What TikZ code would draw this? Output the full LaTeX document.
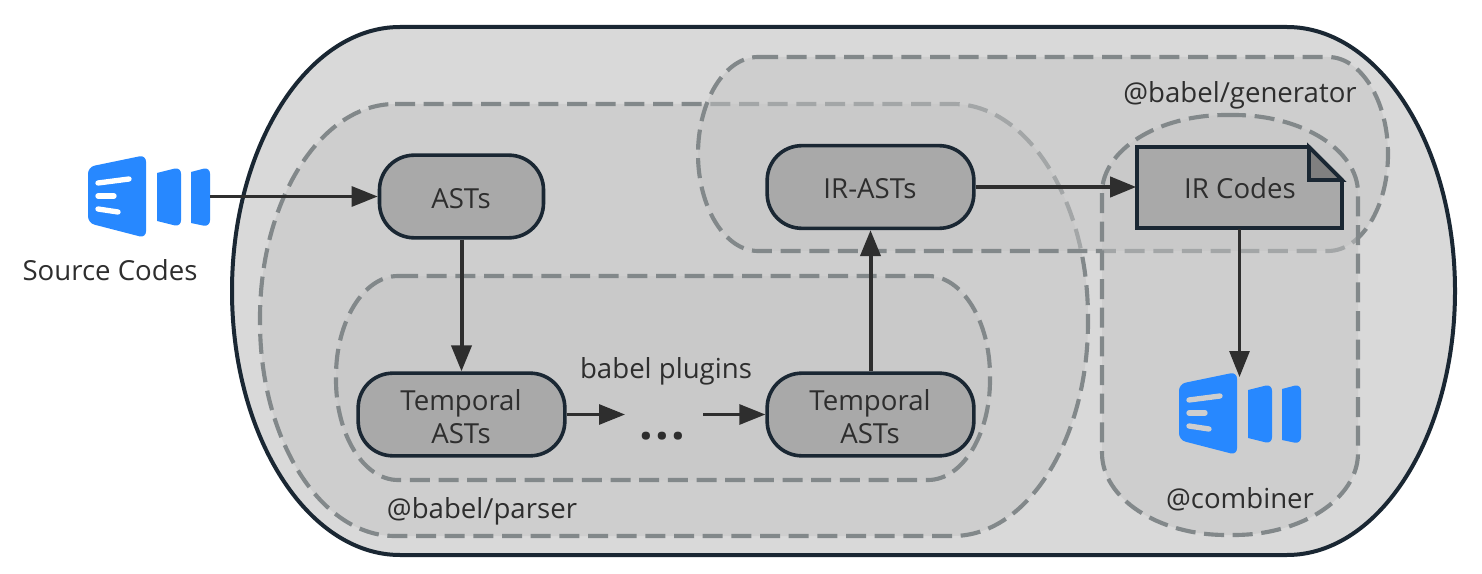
\documentclass[tikz,border=0pt]{standalone}
\usepackage{fontspec}
\setmainfont{Open Sans}
\usetikzlibrary{arrows.meta}
\definecolor{ink}{HTML}{1A2733}
\definecolor{txt}{HTML}{2E2E2E}
\definecolor{outerfill}{HTML}{D9D9D9}
\definecolor{dash}{HTML}{82888A}
\definecolor{regionfill}{HTML}{C5C5C5}
\definecolor{nodefill}{HTML}{A9A9A9}
\definecolor{foldfill}{HTML}{808080}
\definecolor{iconblue}{HTML}{2788FF}
\definecolor{arrowc}{HTML}{2E2E2E}
\tikzset{
  every node/.style={text=txt,font=\fontsize{20.7}{24}\selectfont,inner sep=0pt},
  region/.style={draw=dash,line width=3.1pt,dash pattern=on 15pt off 6.5pt,fill=regionfill,fill opacity=0.5},
  term/.style={draw=ink,line width=2.7pt,fill=nodefill,rounded corners=26pt,align=center},
  flow/.style={draw=arrowc,line width=2.2pt,-{Triangle[length=19.5pt,width=15pt]}},
  flowthick/.style={flow,line width=3pt},
  lbl/.style={anchor=base},
  iconpart/.style={fill=iconblue,rounded corners=5pt},
  iconbar/.style={line width=4pt,line cap=round},
}
% \softbox{x1}{y1}{x2}{y2}{rx top}{ry top}{rx bottom}{ry bottom}: elliptical-cornered outline
\newcommand{\softbox}[8]{%
  ({#1+#5},#2) -- ({#3-#5},#2)
  .. controls ({#3-0.45*#5},#2) and (#3,{#2+0.45*#6}) .. (#3,{#2+#6})
  -- (#3,{#4-#8})
  .. controls (#3,{#4-0.45*#8}) and ({#3-0.45*#7},#4) .. ({#3-#7},#4)
  -- ({#1+#7},#4)
  .. controls ({#1+0.45*#7},#4) and (#1,{#4-0.45*#8}) .. (#1,{#4-#8})
  -- (#1,{#2+#6})
  .. controls (#1,{#2+0.45*#6}) and ({#1+0.45*#5},#2) .. ({#1+#5},#2) -- cycle}
\newcommand{\blueicon}[3]{%
  \begin{scope}[shift={(#1,#2)}]
    \fill[iconpart] (88,167) -- (146,155) -- (146,238) -- (88,223) -- cycle;
    \fill[fill=iconblue] (157,173) [rounded corners=5pt] -- (181,167) -- (181,227) [sharp corners] -- (157,221) -- cycle;
    \fill[fill=iconblue] (191,172) [rounded corners=5pt] -- (210,167) -- (210,227) [sharp corners] -- (191,223) -- cycle;
    \draw[iconbar,#3] (98,183) -- (129,179);
    \draw[iconbar,#3] (98,196) -- (114,196);
    \draw[iconbar,#3] (98,209) -- (118,212);
  \end{scope}}
\begin{document}
\begin{tikzpicture}[x=0.75pt,y=-0.75pt]
\useasboundingbox (0,0) rectangle (1482,574);
\fill[white] (0,0) rectangle (1482,574);
% outer container
\draw[draw=ink,line width=3pt,fill=outerfill] \softbox{232}{27}{1455}{555}{168}{264}{168}{264};
% regions
\draw[region] \softbox{260}{104}{1088}{536}{135}{214}{135}{214};
\draw[region] \softbox{698}{57}{1388}{251}{60}{97}{60}{97};
\draw[region] \softbox{1102}{115}{1358}{535}{124}{78}{124}{82};
\draw[region] \softbox{336}{276}{990}{480}{62}{100}{62}{100};
% icons
\blueicon{0}{0}{white}
\blueicon{1091}{217}{regionfill!85!white}
\coordinate (srcicon) at (210,196.5);
\coordinate (outicon) at (1239.5,377);
\coordinate (dotsin) at (625,414.5);
\coordinate (dotsout) at (703,414.5);
% file shape
\coordinate (ftl) at (1137,147);
\coordinate (ftr) at (1309,147);
\coordinate (fbr) at (1342,228);
\coordinate (fbl) at (1137,228);
\coordinate (ffold) at (1342,180);
\coordinate (fcrn) at (1309,180);
\draw[draw=ink,line width=2.9pt,fill=nodefill] (ftl) -- (ftr) -- (ffold) -- (fbr) -- (fbl) -- cycle;
\draw[draw=ink,line width=2.9pt,fill=foldfill] (ftr) -- (fcrn) -- (ffold) -- cycle;
\node[minimum width=154.5pt,minimum height=62pt] (ircodes) at (1239.5,187) {};
\node[lbl] (irtext) at (1240,199) {IR Codes};
% terms
\node[term,minimum width=123pt,minimum height=62pt] (asts) at (461.5,196.5) {};
\node[term,minimum width=155pt,minimum height=62pt] (irasts) at (870.5,187) {};
\node[term,minimum width=155pt,minimum height=62pt] (tleft) at (461.5,414.5) {};
\node[term,minimum width=155pt,minimum height=62pt] (tright) at (870.5,414.5) {};
\node[lbl] (aststext) at (461,209) {ASTs};
\node[lbl] (irastext) at (870,199) {IR-ASTs};
\node[lbl] (tltop) at (461,410) {Temporal};
\node[lbl] (tlbot) at (461,443) {ASTs};
\node[lbl] (trtop) at (870,410) {Temporal};
\node[lbl] (trbot) at (870,443) {ASTs};
% labels
\node[lbl] (srclabel) at (110,281) {Source Codes};
\node[lbl] (plugins) at (666,378) {babel plugins};
\node[lbl] (parser) at (482,518) {@babel/parser};
\node[lbl] (generator) at (1240,103) {@babel/generator};
\node[lbl] (combiner) at (1240,508) {@combiner};
\node[anchor=base,font=\fontsize{36}{38}\bfseries\selectfont] (dots) at (662,439) {.\hspace{1.7pt}.\hspace{1.7pt}.};
% connectors
\draw[flow] (srcicon) -- (asts.west);
\draw[flowthick] (asts.south) -- (tleft.north);
\draw[flow] (tleft.east) -- (dotsin);
\draw[flow] (dotsout) -- (tright.west);
\draw[flowthick] (tright.north) -- (irasts.south);
\draw[flowthick] (irasts.east) -- (ircodes.west);
\draw[flow] (ircodes.south) -- (outicon);
\end{tikzpicture}
\end{document}
